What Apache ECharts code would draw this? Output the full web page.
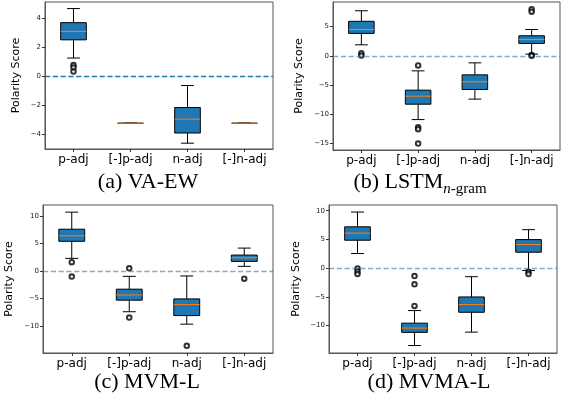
<!DOCTYPE html>
<html>
<head>
    <meta charset="utf-8">
    <title>Polarity Score boxplots</title>
    <script src="https://cdn.jsdelivr.net/npm/echarts@6/dist/echarts.min.js"></script>
</head>
<body style="margin:0;background:#fff;">
<div id="main" style="width:564px;height:403px;"></div>
<script type="text/javascript">
    // categories
    var categories = ['p-adj', '[-]p-adj', 'n-adj', '[-]n-adj'];

    // box stats per panel: [min, Q1, median, Q3, max]
    var boxesA = [[1.25, 2.5, 3.08, 3.68, 4.65], [-3.23, -3.23, -3.23, -3.23, -3.23], [-4.6, -3.9, -2.95, -2.15, -0.64], [-3.23, -3.23, -3.23, -3.23, -3.23]];
    var boxesB = [[1.88, 3.83, 4.5, 5.9, 7.7], [-10.9, -8.27, -6.9, -5.87, -2.57], [-7.4, -5.75, -4.45, -3.25, -1.2], [0.29, 2.12, 2.8, 3.43, 4.5]];
    var boxesC = [[2.3, 5.4, 6.4, 7.6, 10.7], [-7.4, -5.3, -4.35, -3.3, -0.97], [-9.66, -8.1, -6.1, -5.07, -0.9], [0.85, 1.75, 2.4, 2.9, 4.17]];
    var boxesD = [[2.54, 4.86, 6.1, 7.2, 9.77], [-13.5, -11.2, -10.46, -9.6, -7.4], [-11.16, -7.7, -6.36, -5.03, -1.5], [-0.4, 2.77, 4.1, 4.97, 6.7]];

    // outliers: [category index, value]
    var outA = [[0, 0.77], [0, 0.6], [0, 0.32]];
    var outB = [[0, 0.45], [0, 0.05], [1, -1.65], [1, -12.2], [1, -12.55], [1, -15.0], [3, 7.95], [3, 7.55], [3, 0.12], [3, 0.0]];
    var outC = [[0, 1.6], [0, -1.0], [1, 0.5], [1, -8.45], [2, -13.6], [3, -1.39]];
    var outD = [[0, -0.06], [0, -0.58], [0, -1.04], [1, -1.39], [1, -2.83], [1, -6.6], [3, -0.64], [3, -1.04]];

    // y axis ranges and tick labels per panel
    var yRanges = [[-5.0, 5.1], [-16.1, 9.2], [-14.9, 12], [-14.8, 11]];
    var yTicksA = [-4, -2, 0, 2, 4];
    var yTicksB = [-15, -10, -5, 0, 5];
    var yTicksC = [-10, -5, 0, 5, 10];
    var yTicksD = [-10, -5, 0, 5, 10];

    var captions = ['(a) VA-EW', '(b) LSTM{i|n}{s|-gram}', '(c) MVM-L', '(d) MVMA-L'];

    var grids = [
        {left: 45, top: 2, width: 228, height: 147},
        {left: 333, top: 2, width: 227, height: 148},
        {left: 43, top: 205, width: 230, height: 148},
        {left: 329, top: 205, width: 228, height: 148}
    ];
    var nameGaps = [23, 28, 28, 27];
    var captionPos = [[148, 182], [420, 182], [147, 382], [429, 382]];
    var zeroOpacity = [1, 0.6, 0.6, 0.6];

    var allBoxes = [boxesA, boxesB, boxesC, boxesD];
    var allOut = [outA, outB, outC, outD];
    var allTicks = [yTicksA, yTicksB, yTicksC, yTicksD];

    function boxItem(params, api) {
        var x = api.value(0);
        var band = api.size([1, 0])[0];
        var bw = band * 0.45;
        var cw = bw / 2;
        var pMin = api.coord([x, api.value(1)]);
        var pQ1 = api.coord([x, api.value(2)]);
        var pMed = api.coord([x, api.value(3)]);
        var pQ3 = api.coord([x, api.value(4)]);
        var pMax = api.coord([x, api.value(5)]);
        var cx = pMed[0];
        var black = {stroke: '#000', lineWidth: 1};
        return {
            type: 'group',
            children: [
                {type: 'line', shape: {x1: cx, y1: pMin[1], x2: cx, y2: pQ1[1]}, style: black},
                {type: 'line', shape: {x1: cx, y1: pQ3[1], x2: cx, y2: pMax[1]}, style: black},
                {type: 'line', shape: {x1: cx - cw / 2, y1: pMin[1], x2: cx + cw / 2, y2: pMin[1]}, style: black},
                {type: 'line', shape: {x1: cx - cw / 2, y1: pMax[1], x2: cx + cw / 2, y2: pMax[1]}, style: black},
                {type: 'rect', shape: {x: cx - bw / 2, y: pQ3[1], width: bw, height: pQ1[1] - pQ3[1]},
                    style: {fill: '#1f77b4', stroke: '#000', lineWidth: 1}},
                {type: 'line', shape: {x1: cx - bw / 2, y1: pMed[1], x2: cx + bw / 2, y2: pMed[1]},
                    style: {stroke: '#ff7f0e', lineWidth: 1}}
            ]
        };
    }

    var myChart = echarts.init(document.getElementById('main'));

    var option = {
        animation: false,
        backgroundColor: '#fff',
        grid: [],
        xAxis: [],
        yAxis: [],
        series: [],
        graphic: []
    };

    for (var p = 0; p < 4; p++) {
        var g = grids[p];
        option.grid.push({left: g.left, top: g.top, width: g.width, height: g.height,
            show: true, borderColor: '#555', borderWidth: 1, backgroundColor: 'transparent'});
        option.xAxis.push({
            type: 'category', gridIndex: p, data: categories, boundaryGap: true,
            axisLine: {show: true, onZero: false, lineStyle: {color: '#555'}},
            axisTick: {show: true, alignWithLabel: true, interval: 0, length: 3, lineStyle: {color: '#333'}},
            axisLabel: {fontFamily: 'DejaVu Sans', fontSize: 12, color: '#000', margin: 5, interval: 0, hideOverlap: false},
            splitLine: {show: false}
        });
        option.yAxis.push({
            type: 'value', gridIndex: p,
            min: yRanges[p][0], max: yRanges[p][1],
            name: 'Polarity Score', nameLocation: 'middle', nameGap: nameGaps[p], nameRotate: 90,
            nameTextStyle: {fontFamily: 'DejaVu Sans', fontSize: 11, color: '#000'},
            axisLine: {show: true, onZero: false, lineStyle: {color: '#555'}},
            axisTick: {show: true, length: 3, customValues: allTicks[p], lineStyle: {color: '#333'}},
            axisLabel: {fontFamily: 'DejaVu Sans', fontSize: 7, color: '#222', margin: 4,
                customValues: allTicks[p],
                formatter: function (v) { return String(v).replace('-', '\u2212'); }},
            splitLine: {show: false}
        });

        var boxData = [];
        for (var i = 0; i < allBoxes[p].length; i++) {
            boxData.push([i].concat(allBoxes[p][i]));
        }
        option.series.push({
            type: 'custom', xAxisIndex: p, yAxisIndex: p,
            renderItem: boxItem,
            encode: {x: 0, y: [1, 2, 3, 4, 5]},
            data: boxData,
            z: 3,
            markLine: {
                silent: true, symbol: ['none', 'none'], label: {show: false},
                lineStyle: {color: '#1f77b4', type: 'dashed', width: 1.3, opacity: zeroOpacity[p]},
                data: [{yAxis: 0}]
            }
        });
        option.series.push({
            type: 'scatter', xAxisIndex: p, yAxisIndex: p,
            symbol: 'emptyCircle', symbolSize: 4.5,
            itemStyle: {color: '#000', borderColor: '#000', borderWidth: 0.9},
            data: allOut[p],
            z: 4
        });

        option.graphic.push({
            type: 'text', x: captionPos[p][0], y: captionPos[p][1],
            style: {
                text: captions[p], font: '22px "Liberation Serif"', fill: '#000',
                textAlign: 'center', textVerticalAlign: 'middle',
                rich: {
                    i: {fontFamily: 'Liberation Serif', fontSize: 15, fontStyle: 'italic', padding: [14, 0, 0, 0], verticalAlign: 'bottom'},
                    s: {fontFamily: 'Liberation Serif', fontSize: 15, padding: [14, 0, 0, 0], verticalAlign: 'bottom'}
                }
            }
        });
    }

    myChart.setOption(option);
</script>
</body>
</html>
